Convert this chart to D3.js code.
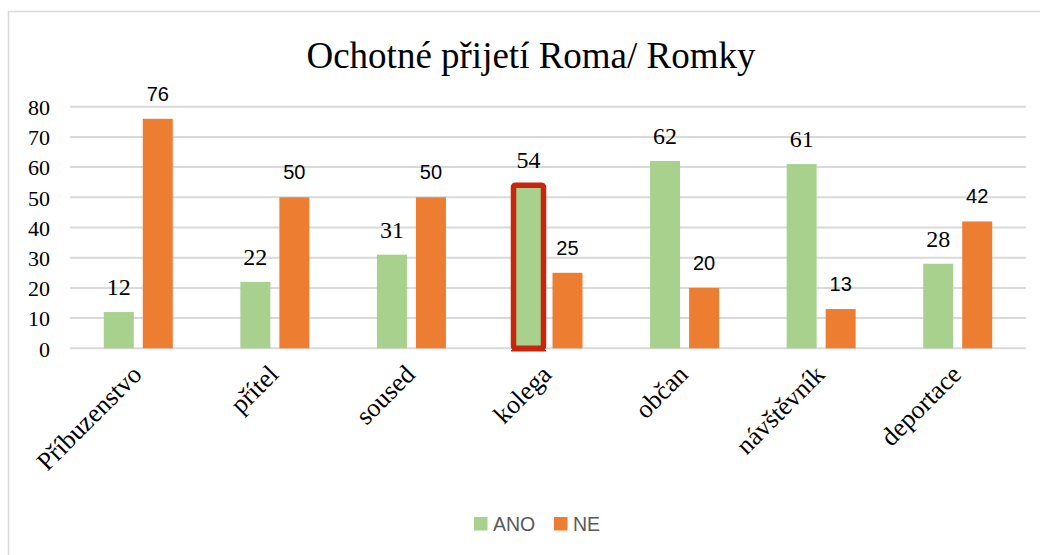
<!DOCTYPE html>
<html><head><meta charset="utf-8">
<script src="https://cdn.jsdelivr.net/npm/d3@7"></script>
<style>
body{margin:0;background:#fff}
.serif{font-family:'Liberation Serif','Times New Roman',serif !important}
.sans{font-family:'Liberation Sans',Arial,sans-serif !important}
</style>
</head><body>
<svg id="c" width="1040" height="555"></svg>
<script>
const categories = ["Příbuzenstvo","přítel","soused","kolega","občan","návštěvník","deportace"];
const series = ["ANO","NE"];
const ano = [12,22,31,54,62,61,28];
const ne = [76,50,50,25,20,13,42];
const yTicks = [0,10,20,30,40,50,60,70,80];
const highlighted = "kolega";
const colors = {ANO:"#a9d18e", NE:"#ed7d31"};

const svg = d3.select("#c");
svg.append("rect").attr("x",8.5).attr("y",11.5).attr("width",1040).attr("height",560)
  .attr("fill","#fff").attr("stroke","#d9d9d9").attr("stroke-width",1.5);

const pLeft=70, pRight=1026, pTop=106.7, pBottom=348.3;
const x = d3.scaleBand().domain(categories).range([pLeft,pRight]);
const bw = x.bandwidth();
const x1 = d3.scaleBand().domain(series).range([bw/2-34.5, bw/2+34.5]).paddingInner(0.231);
const y = d3.scaleLinear().domain([0,80]).range([pBottom,pTop]);

// gridlines
svg.append("g").selectAll("line").data(yTicks).join("line")
  .attr("x1",pLeft).attr("x2",pRight).attr("y1",d=>y(d)).attr("y2",d=>y(d))
  .attr("stroke","#d9d9d9").attr("stroke-width",2);

// y axis labels
const yAxis = d3.axisLeft(y).tickValues(yTicks).tickSize(0).tickPadding(0);
const ga = svg.append("g").attr("transform","translate(50,0)").call(yAxis);
ga.attr("font-family",null);
ga.select(".domain").remove();
ga.selectAll("text").attr("class","serif")
  .attr("font-size",22).attr("fill","#000").attr("dy","0.35em");

const data = categories.map((c,i)=>({cat:c, ANO:ano[i], NE:ne[i]}));
const g = svg.append("g").selectAll("g").data(data).join("g")
  .attr("transform",d=>`translate(${x(d.cat)},0)`);

g.selectAll("rect").data(d=>series.map(s=>({s, v:d[s], cat:d.cat}))).join("rect")
  .attr("x",d=>x1(d.s)).attr("width",x1.bandwidth())
  .attr("y",d=>y(d.v)).attr("height",d=>y(0)-y(d.v))
  .attr("fill",d=>colors[d.s]);

// highlight
const hd = data.find(d=>d.cat===highlighted);
svg.append("rect")
  .attr("x",x(highlighted)+x1("ANO")).attr("width",x1.bandwidth())
  .attr("y",y(hd.ANO)).attr("height",y(0)-y(hd.ANO))
  .attr("fill","none").attr("stroke","#c8260c").attr("stroke-width",5.5).attr("rx",2);
svg.append("line")
  .attr("x1",x(highlighted)+x1("ANO")-2.5).attr("x2",x(highlighted)+x1("ANO")+x1.bandwidth()+2.5)
  .attr("y1",y(0)+2.5).attr("y2",y(0)+2.5).attr("stroke","#c8260c").attr("stroke-width",1.5);

// value labels
g.selectAll("text.v").data(d=>series.map(s=>({s, v:d[s]}))).join("text")
  .attr("class",d=>d.s==="ANO"?"v serif":"v sans")
  .attr("x",d=>x1(d.s)+x1.bandwidth()/2)
  .attr("y",d=>y(d.v)-(d.s==="ANO"?17:18))
  .attr("text-anchor","middle")
  .attr("font-size",d=>d.s==="ANO"?24:20)
  .attr("fill","#000")
  .text(d=>d.v);

// x labels
svg.append("g").selectAll("text").data(categories).join("text")
  .attr("class","serif")
  .attr("transform",d=>`translate(${x(d)+bw/2+5},${376}) rotate(-45)`)
  .attr("text-anchor","end")
  .attr("font-size",26).attr("fill","#000")
  .text(d=>d);

// title
svg.append("text").attr("class","serif").attr("x",531).attr("y",68).attr("text-anchor","middle")
  .attr("font-size",37).attr("fill","#000").text("Ochotné přijetí Roma/ Romky");

// legend
const leg = svg.append("g");
const legX = [474,554];
series.forEach((s,i)=>{
  leg.append("rect").attr("x",legX[i]).attr("y",517).attr("width",13.5).attr("height",13.5).attr("fill",colors[s]);
  leg.append("text").attr("class","sans").attr("x",legX[i]+19).attr("y",531)
    .attr("font-size",19.5).attr("fill","#595959").text(s);
});
</script>
</body></html>
